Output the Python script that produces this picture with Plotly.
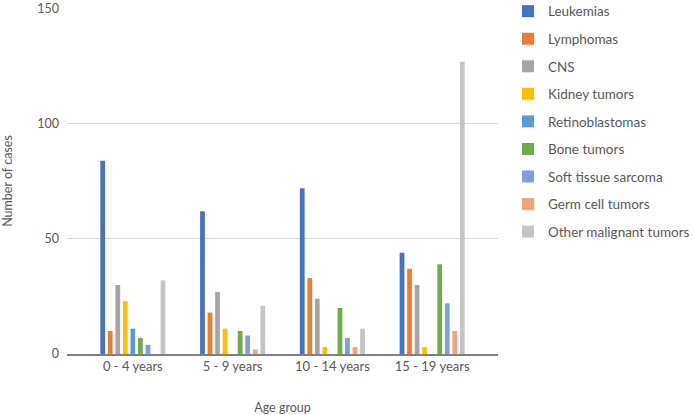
import plotly.graph_objects as go

age_groups = ["0 - 4 years", "5 - 9 years", "10 - 14 years", "15 - 19 years"]
series_names = ["Leukemias", "Lymphomas", "CNS", "Kidney tumors", "Retinoblastomas",
                "Bone tumors", "Soft tissue sarcoma", "Germ cell tumors", "Other malignant tumors"]
leukemias = [84, 62, 72, 44]
lymphomas = [10, 18, 33, 37]
cns = [30, 27, 24, 30]
kidney = [23, 11, 3, 3]
retino = [11, 0, 0, 0]
bone = [7, 10, 20, 39]
soft_tissue = [4, 8, 7, 22]
germ_cell = [0, 2, 3, 10]
other = [32, 21, 11, 127]
series_values = [leukemias, lymphomas, cns, kidney, retino, bone, soft_tissue, germ_cell, other]
colors = ["#4472C4", "#ED7D31", "#A5A5A5", "#FFC000", "#5B9BD5",
          "#70AD47", "#7F9FD8", "#F4A47A", "#C4C4C4"]

fig = go.Figure()
for name, vals, col in zip(series_names, series_values, colors):
    fig.add_trace(go.Bar(x=age_groups, y=vals, name=name, marker_color=col,
                         marker_line_width=0, legendgroup=name))

font_col = "#595959"
fig.update_layout(
    width=694, height=415,
    margin=dict(l=67, r=196, t=8, b=61, autoexpand=False),
    paper_bgcolor="white", plot_bgcolor="white",
    barmode="group", bargap=0.32, bargroupgap=0.37,
    font=dict(family="Lato", size=13, color=font_col),
    legend=dict(x=(508 - 67) / 431, y=1.035, xanchor="left", yanchor="top",
                font=dict(size=13.5, color=font_col), tracegroupgap=7.0,
                traceorder="grouped", itemwidth=30, borderwidth=0, maxheight=400),
    showlegend=True,
)
fig.update_xaxes(range=[-0.66, 3.66], showgrid=False, showline=True,
                 linecolor="#808080", linewidth=1.5, ticks="",
                 title=dict(text="Age group", standoff=30, font=dict(size=12.5, color=font_col)),
                 tickfont=dict(size=13, color=font_col))
fig.update_yaxes(range=[0, 150.4], tickvals=[0, 50, 100, 150], showgrid=True,
                 gridcolor="#D9D9D9", gridwidth=1, zeroline=False, showline=False,
                 title=dict(text="Number of cases", standoff=22, font=dict(size=12.5, color=font_col)),
                 tickfont=dict(size=12.5, color=font_col), ticklabelstandoff=7,
                 ticklabeloverflow="allow")

fig.write_html("out.html", config={"displayModeBar": False},
               post_script="document.body.style.margin='0';")
